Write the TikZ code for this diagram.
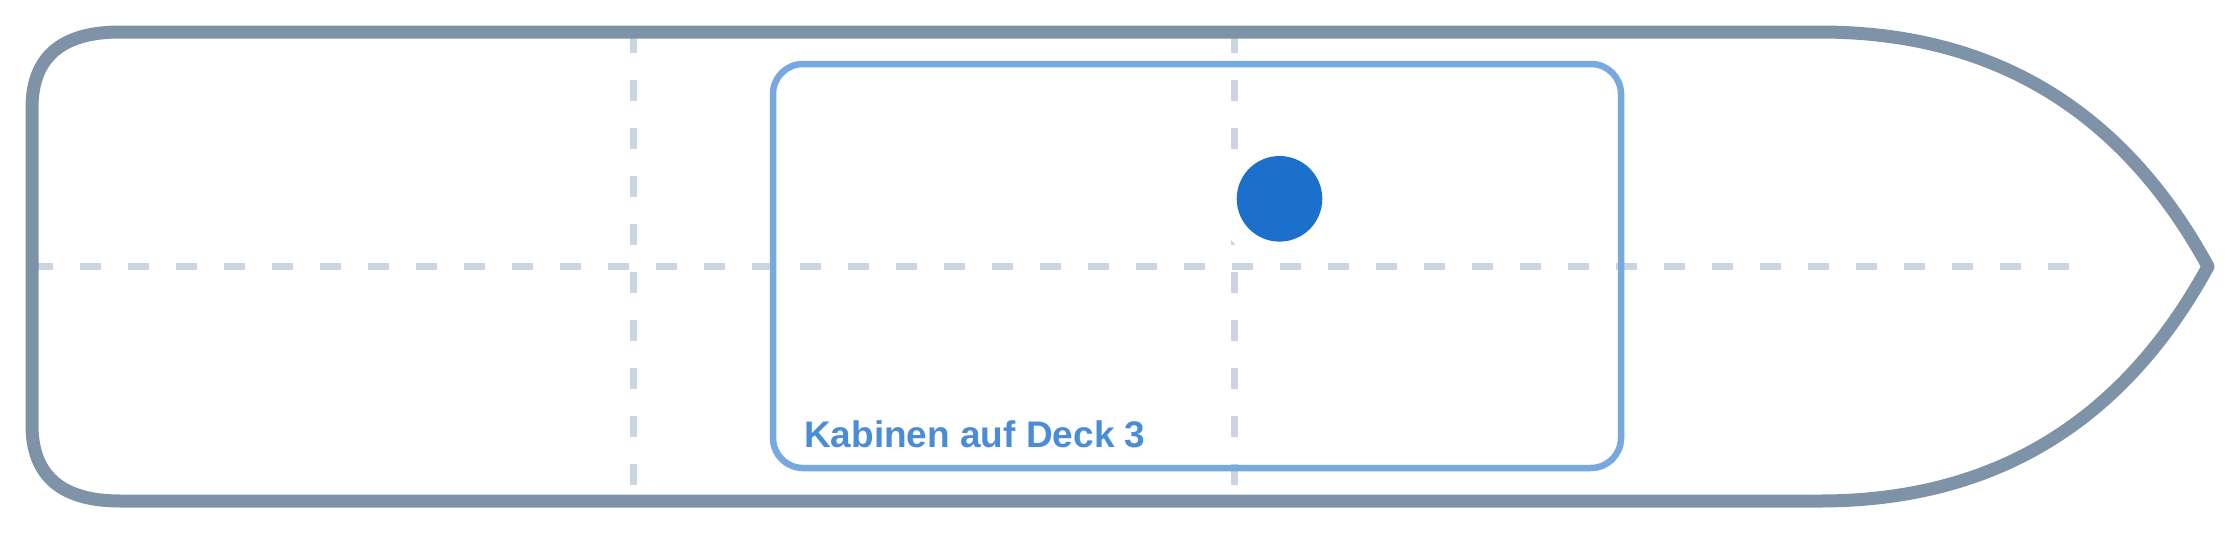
\documentclass[tikz,border=0pt]{standalone}
\usepackage{fontspec}
\setmainfont{Liberation Sans}
\definecolor{hullc}{HTML}{7F93A8}
\definecolor{gridc}{HTML}{CBD5E1}
\definecolor{cabinc}{HTML}{77A9E0}
\definecolor{markc}{HTML}{1D6FCC}
\definecolor{txtc}{HTML}{4A8CD6}
\begin{document}
\begin{tikzpicture}[x=1pt,y=-1pt,
  hull/.style={draw=hullc,line width=13pt,line join=round},
  guide/.style={draw=gridc,line width=7pt,dash pattern=on 21pt off 27pt},
  cabin/.style={draw=cabinc,line width=6.5pt,rounded corners=30pt,rectangle,inner sep=0pt},
  cabinlabel/.style={text=txtc,font=\fontsize{37}{44}\selectfont\bfseries,inner sep=0pt},
  halo/.style={circle,fill=white,inner sep=0pt,minimum size=127pt},
  marker/.style={circle,fill=markc,inner sep=0pt,minimum size=85.6pt}]
\useasboundingbox (0,0) rectangle (2240,533);
% guide lines
\draw[guide] (32,266.5) -- (2069,266.5);
\draw[guide] (633,32) -- (633,501);
\draw[guide] (1234,32) -- (1234,501);
% hull
\draw[hull] (120,32) -- (1820,32)
  .. controls (1993.3,32) and (2122.7,110.2) .. (2208,266.5)
  .. controls (2122.7,422.8) and (1993.3,501) .. (1820,501)
  -- (120,501)
  .. controls (61.3,501) and (32,475.7) .. (32,425)
  -- (32,108)
  .. controls (32,57.3) and (61.3,32) .. (120,32) -- cycle;
% cabin area
\node[cabin,minimum width=848pt,minimum height=404pt] (cab) at (1197,266) {};
\node[cabinlabel,anchor=base west] (lbl) at (804,447) {Kabinen auf Deck 3};
% position marker
\node[halo] (halo) at (1279.5,198.8) {};
\node[marker] (pos) at (1279.5,198.8) {};
\end{tikzpicture}
\end{document}
